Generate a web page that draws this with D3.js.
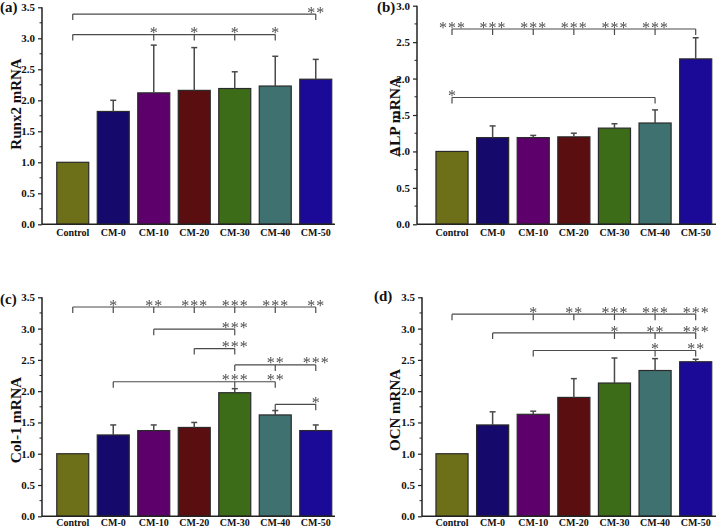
<!DOCTYPE html>
<html>
<head>
<meta charset="utf-8">
<script src="https://cdn.jsdelivr.net/npm/d3@7"></script>
<style>
  html, body { margin: 0; padding: 0; background: #fff; }
  svg { display: block; }
  text { font-family: "Liberation Serif", "Times New Roman", serif; }
  .stars { opacity: 0.99; will-change: transform; }
</style>
</head>
<body>
<svg id="chart" width="717" height="528"></svg>
<script>
// ---------------- DATA ----------------
const categories = ["Control", "CM-0", "CM-10", "CM-20", "CM-30", "CM-40", "CM-50"];
const barColors = ["#6e7019", "#150a6c", "#5d006b", "#5a0e10", "#3c6c17", "#407171", "#1b0997"];

const runx2Values = [1.00, 1.82, 2.12, 2.16, 2.19, 2.23, 2.34];
const runx2Errors = [0, 0.18, 0.77, 0.69, 0.27, 0.48, 0.32];

const alpValues = [1.00, 1.19, 1.19, 1.20, 1.32, 1.39, 2.27];
const alpErrors = [0, 0.16, 0.03, 0.05, 0.06, 0.18, 0.29];

const col1Values = [1.00, 1.30, 1.37, 1.42, 1.975, 1.62, 1.37];
const col1Errors = [0, 0.16, 0.09, 0.08, 0.065, 0.07, 0.09];

const ocnValues = [1.00, 1.46, 1.63, 1.90, 2.13, 2.33, 2.47];
const ocnErrors = [0, 0.21, 0.05, 0.30, 0.40, 0.19, 0.04];

const ticks35 = [0, 0.5, 1.0, 1.5, 2.0, 2.5, 3.0, 3.5];
const ticks30 = [0, 0.5, 1.0, 1.5, 2.0, 2.5, 3.0];

// significance brackets: level (data units), from/to categories, star marks
const runx2Sig = [
  { level: 3.39, from: "Control", to: "CM-50", marks: [["CM-50", "**"]] },
  { level: 3.06, from: "Control", to: "CM-40", marks: [["CM-10", "*"], ["CM-20", "*"], ["CM-30", "*"], ["CM-40", "*"]] }
];
const alpSig = [
  { level: 2.68, from: "Control", to: "CM-50", marks: [["Control", "***"], ["CM-0", "***"], ["CM-10", "***"], ["CM-20", "***"], ["CM-30", "***"], ["CM-40", "***"]] },
  { level: 1.74, from: "Control", to: "CM-40", marks: [["Control", "*"]] }
];
const col1Sig = [
  { level: 3.345, from: "Control", to: "CM-50", marks: [["CM-0", "*"], ["CM-10", "**"], ["CM-20", "***"], ["CM-30", "***"], ["CM-40", "***"], ["CM-50", "**"]] },
  { level: 2.99, from: "CM-10", to: "CM-30", marks: [["CM-30", "***"]] },
  { level: 2.68, from: "CM-20", to: "CM-30", marks: [["CM-30", "***"]] },
  { level: 2.42, from: "CM-30", to: "CM-50", marks: [["CM-40", "**"], ["CM-50", "***"]] },
  { level: 2.15, from: "CM-0", to: "CM-40", marks: [["CM-30", "***"], ["CM-40", "**"]] },
  { level: 1.79, from: "CM-40", to: "CM-50", marks: [["CM-50", "*"]] }
];
const ocnSig = [
  { level: 3.23, from: "Control", to: "CM-50", marks: [["CM-10", "*"], ["CM-20", "**"], ["CM-30", "***"], ["CM-40", "***"], ["CM-50", "***"]] },
  { level: 2.93, from: "CM-0", to: "CM-50", marks: [["CM-30", "*"], ["CM-40", "**"], ["CM-50", "***"]] },
  { level: 2.65, from: "CM-10", to: "CM-50", marks: [["CM-40", "*"], ["CM-50", "**"]] }
];

// ---------------- LAYOUT ----------------
const panels = [
  { tag: "(a)", yLabel: "Runx2  mRNA", values: runx2Values, errors: runx2Errors, ticks: ticks35, max: 3.5, sig: runx2Sig,
    axisX: 42, axisRight: 335, band: [52.5, 336], yTop: 7.3, yBottom: 224.3, catDy: 11.5,
    tagPos: [0, 12], labelPos: [16, 104], labelSize: 15 },
  { tag: "(b)", yLabel: "ALP mRNA", values: alpValues, errors: alpErrors, ticks: ticks30, max: 3.0, sig: alpSig,
    axisX: 417, axisRight: 716, band: [431.7, 716], yTop: 5.7, yBottom: 224.3, catDy: 11.5,
    tagPos: [377, 12], labelPos: [395, 117], labelSize: 15.5 },
  { tag: "(c)", yLabel: "Col-1 mRNA", values: col1Values, errors: col1Errors, ticks: ticks35, max: 3.5, sig: col1Sig,
    axisX: 42, axisRight: 335, band: [52.5, 336], yTop: 297.3, yBottom: 516.3, catDy: 10,
    tagPos: [0, 304], labelPos: [16, 420], labelSize: 15.5 },
  { tag: "(d)", yLabel: "OCN mRNA", values: ocnValues, errors: ocnErrors, ticks: ticks35, max: 3.5, sig: ocnSig,
    axisX: 422, axisRight: 716, band: [431.7, 716], yTop: 297.3, yBottom: 516.3, catDy: 10,
    tagPos: [374, 301], labelPos: [395, 410], labelSize: 15 }
];

const svg = d3.select("#chart");
const axisColor = "#222";
const annoColor = "#4a4a4a";

panels.forEach(p => {
  const g = svg.append("g");
  const x = d3.scaleBand().domain(categories).range(p.band).paddingInner(0.21).paddingOuter(0.105);
  const y = d3.scaleLinear().domain([0, p.max]).range([p.yBottom, p.yTop]);
  const cx = c => x(c) + x.bandwidth() / 2;

  // bars
  g.selectAll("rect.bar").data(p.values).join("rect")
    .attr("class", "bar")
    .attr("x", (d, i) => x(categories[i]))
    .attr("width", x.bandwidth())
    .attr("y", d => y(d))
    .attr("height", d => y(0) - y(d))
    .attr("fill", (d, i) => barColors[i])
    .attr("stroke", "#2a2a2a")
    .attr("stroke-width", 1.2);

  // error bars (upper)
  p.values.forEach((v, i) => {
    const e = p.errors[i];
    if (!e) return;
    const xc = cx(categories[i]);
    g.append("line").attr("x1", xc).attr("x2", xc).attr("y1", y(v)).attr("y2", y(v + e))
      .attr("stroke", annoColor).attr("stroke-width", 1.5);
    g.append("line").attr("x1", xc - 3).attr("x2", xc + 3).attr("y1", y(v + e)).attr("y2", y(v + e))
      .attr("stroke", annoColor).attr("stroke-width", 1.5);
  });

  // y axis
  const minorTicks = d3.range(0, p.max + 0.001, 0.25);
  const yAxis = d3.axisLeft(y).tickValues(p.ticks).tickFormat(d3.format(".1f")).tickSize(4).tickPadding(3);
  const ax = g.append("g").attr("transform", `translate(${p.axisX},0)`).call(yAxis);
  ax.select(".domain").attr("stroke", axisColor).attr("stroke-width", 1.5).attr("d", `M0,${y(0)}V${y(p.max)}`);
  ax.selectAll(".tick line").attr("stroke", axisColor).attr("stroke-width", 1.2);
  ax.selectAll(".tick text").attr("font-family", "Liberation Serif").attr("font-weight", "bold")
    .attr("font-size", 11).attr("fill", "#111");
  g.selectAll("line.minor").data(minorTicks.filter(t => !p.ticks.some(m => Math.abs(m - t) < 1e-6))).join("line")
    .attr("class", "minor")
    .attr("x1", p.axisX - 2.5).attr("x2", p.axisX).attr("y1", d => y(d)).attr("y2", d => y(d))
    .attr("stroke", axisColor).attr("stroke-width", 1);

  // x axis
  g.append("line").attr("x1", p.axisX).attr("x2", p.axisRight).attr("y1", y(0)).attr("y2", y(0))
    .attr("stroke", axisColor).attr("stroke-width", 1.5);
  g.selectAll("text.cat").data(categories).join("text")
    .attr("class", "cat")
    .attr("x", d => cx(d)).attr("y", y(0) + p.catDy)
    .attr("text-anchor", "middle").attr("font-weight", "bold").attr("font-size", 10).attr("fill", "#111")
    .text(d => d);

  // y label
  g.append("text")
    .attr("transform", `translate(${p.labelPos[0]},${p.labelPos[1]}) rotate(-90)`)
    .attr("text-anchor", "middle").attr("dy", "0.35em")
    .attr("font-weight", "bold").attr("font-size", p.labelSize).attr("fill", "#111")
    .text(p.yLabel);

  // panel tag
  g.append("text").attr("x", p.tagPos[0]).attr("y", p.tagPos[1])
    .attr("font-size", 15).attr("font-weight", "bold").attr("fill", "#111").text(p.tag);

  // significance brackets
  const sg = g.append("g");
  const starG = g.append("g").attr("class", "stars");
  p.sig.forEach(s => {
    const ly = y(s.level);
    const x1 = cx(s.from), x2 = cx(s.to);
    sg.append("line").attr("x1", x1).attr("x2", x2).attr("y1", ly).attr("y2", ly)
      .attr("stroke", annoColor).attr("stroke-width", 1.2);
    const drops = [s.from, s.to, ...s.marks.map(m => m[0])];
    Array.from(new Set(drops)).forEach(c => {
      sg.append("line").attr("x1", cx(c)).attr("x2", cx(c)).attr("y1", ly).attr("y2", ly + 6)
        .attr("stroke", annoColor).attr("stroke-width", 1.2);
    });
    s.marks.forEach(m => {
      starG.append("text").attr("x", cx(m[0]) + 0.5).attr("y", ly + 3.6)
        .attr("text-anchor", "middle").attr("font-family", "DejaVu Sans").attr("font-size", 16)
        .attr("letter-spacing", 1)
        .attr("fill", annoColor).text(m[1]);
    });
  });
});
</script>
</body>
</html>
